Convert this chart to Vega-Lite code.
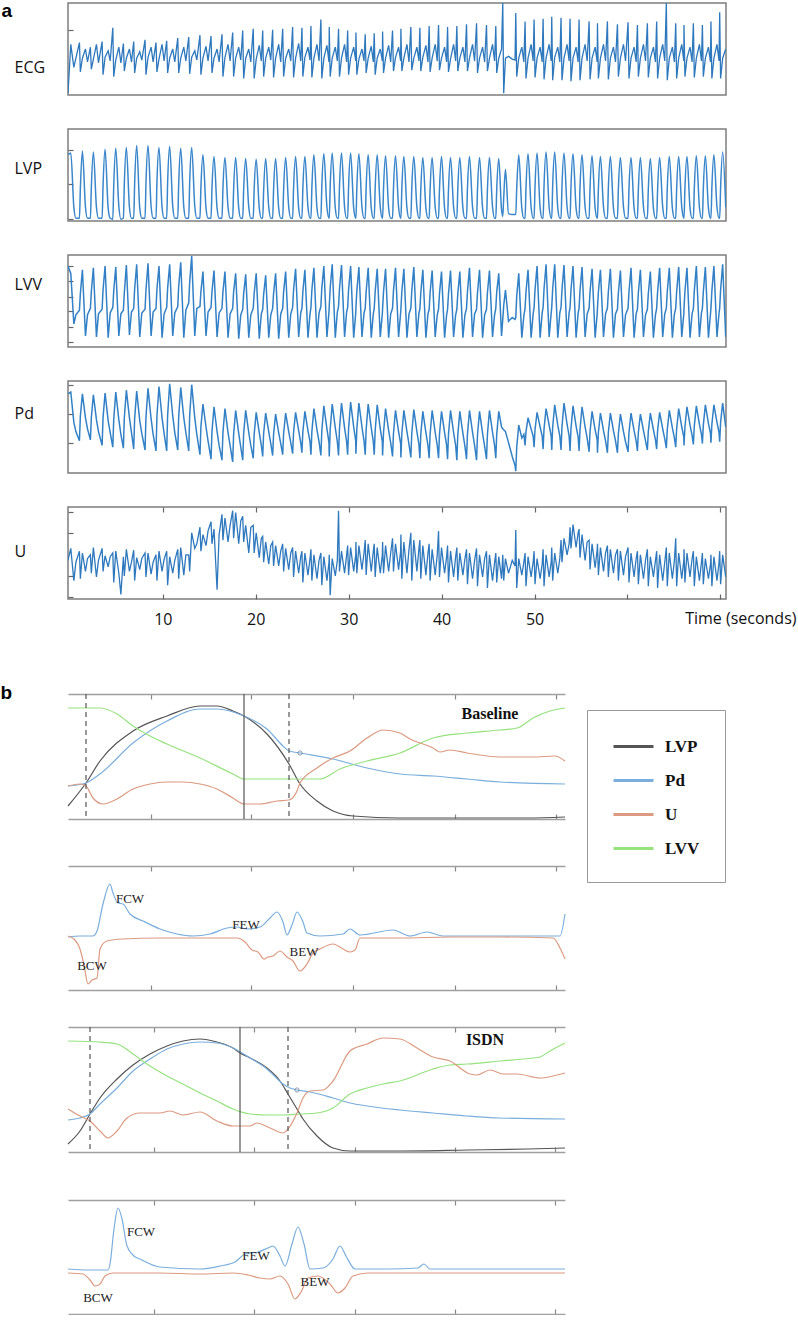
{
"$schema":"https://vega.github.io/schema/vega-lite/v6.json",
"background":"white",
"padding":{"left":0,"top":0,"right":0,"bottom":0},
"config":{"view":{"stroke":null},"font":"Open Sans"},
"resolve":{"scale":{"color":"independent"}},
"spacing":0,
"bounds":"flush",
"datasets":{
"a":[
{"t":-0.2,"e":2,"p":72,"v":88,"d":86,"u":42},{"t":0.1,"e":55,"p":74,"v":80,"d":88,"u":55},{"t":0.43,"e":30,"p":15,"v":25,"d":55,"u":20},{"t":0.65,"e":40,"p":3,"v":35,"d":45,"u":40},
{"t":1.03,"e":57,"p":3,"v":40,"d":35,"u":52},{"t":1.13,"e":25,"p":35,"v":58,"d":62,"u":22},{"t":1.35,"e":40,"p":76,"v":84,"d":86,"u":50},{"t":1.68,"e":50,"p":15,"v":12,"d":60,"u":30},{"t":1.9,"e":36,"p":3,"v":35,"d":48,"u":44},
{"t":2.21,"e":52,"p":3,"v":42,"d":36,"u":48},{"t":2.31,"e":28,"p":36,"v":60,"d":60,"u":28},{"t":2.53,"e":39,"p":75,"v":86,"d":85,"u":56},{"t":2.86,"e":55,"p":15,"v":11,"d":58,"u":24},{"t":3.08,"e":35,"p":3,"v":36,"d":45,"u":42},
{"t":3.47,"e":58,"p":3,"v":41,"d":30,"u":55},{"t":3.57,"e":22,"p":38,"v":62,"d":60,"u":30},{"t":3.79,"e":41,"p":78,"v":88,"d":87,"u":47},{"t":4.12,"e":48,"p":14,"v":10,"d":57,"u":35},{"t":4.34,"e":37,"p":3,"v":37,"d":44,"u":46},
{"t":4.62,"e":73,"p":2,"v":43,"d":28,"u":50},{"t":4.72,"e":20,"p":38,"v":61,"d":58,"u":18},{"t":4.94,"e":38,"p":79,"v":87,"d":88,"u":52},{"t":5.27,"e":52,"p":16,"v":12,"d":58,"u":28},{"t":5.49,"e":35,"p":2,"v":36,"d":42,"u":5},
{"t":5.76,"e":56,"p":3,"v":40,"d":27,"u":46},{"t":5.86,"e":26,"p":40,"v":59,"d":60,"u":25},{"t":6.08,"e":40,"p":80,"v":89,"d":90,"u":54},{"t":6.41,"e":50,"p":15,"v":13,"d":60,"u":30},{"t":6.63,"e":36,"p":3,"v":38,"d":44,"u":40},
{"t":6.87,"e":58,"p":3,"v":42,"d":26,"u":53},{"t":6.97,"e":24,"p":40,"v":63,"d":59,"u":20},{"t":7.19,"e":40,"p":82,"v":90,"d":89,"u":45},{"t":7.52,"e":47,"p":14,"v":11,"d":57,"u":32},{"t":7.74,"e":38,"p":3,"v":37,"d":43,"u":44},
{"t":8.09,"e":60,"p":3,"v":41,"d":25,"u":50},{"t":8.19,"e":22,"p":41,"v":62,"d":61,"u":24},{"t":8.41,"e":41,"p":82,"v":91,"d":92,"u":50},{"t":8.74,"e":52,"p":16,"v":12,"d":59,"u":27},{"t":8.96,"e":36,"p":3,"v":38,"d":42,"u":40},
{"t":9.27,"e":57,"p":3,"v":42,"d":24,"u":48},{"t":9.37,"e":25,"p":42,"v":63,"d":62,"u":20},{"t":9.59,"e":39,"p":80,"v":88,"d":94,"u":52},{"t":9.92,"e":55,"p":15,"v":10,"d":60,"u":30},{"t":10.14,"e":37,"p":3,"v":36,"d":43,"u":43},
{"t":10.42,"e":59,"p":3,"v":43,"d":24,"u":52},{"t":10.52,"e":24,"p":42,"v":64,"d":63,"u":15},{"t":10.74,"e":40,"p":81,"v":90,"d":97,"u":46},{"t":11.07,"e":50,"p":16,"v":12,"d":62,"u":28},{"t":11.29,"e":36,"p":3,"v":37,"d":44,"u":42},
{"t":11.61,"e":62,"p":3,"v":44,"d":25,"u":54},{"t":11.71,"e":24,"p":40,"v":66,"d":61,"u":22},{"t":11.93,"e":40,"p":79,"v":92,"d":93,"u":56},{"t":12.26,"e":52,"p":15,"v":10,"d":60,"u":26},{"t":12.48,"e":37,"p":3,"v":40,"d":44,"u":48},
{"t":12.79,"e":63,"p":3,"v":48,"d":24,"u":48},{"t":12.89,"e":23,"p":41,"v":70,"d":62,"u":30},{"t":13.11,"e":41,"p":80,"v":99,"d":96,"u":72},{"t":13.44,"e":48,"p":16,"v":12,"d":60,"u":55},{"t":13.66,"e":38,"p":3,"v":42,"d":42,"u":60},
{"t":14,"e":65,"p":3,"v":44,"d":20,"u":78},{"t":14.1,"e":22,"p":36,"v":60,"d":50,"u":52},{"t":14.32,"e":40,"p":72,"v":82,"d":75,"u":70},{"t":14.65,"e":53,"p":14,"v":12,"d":50,"u":58},{"t":14.87,"e":37,"p":3,"v":38,"d":35,"u":74},
{"t":15.19,"e":64,"p":3,"v":43,"d":15,"u":84},{"t":15.29,"e":24,"p":35,"v":60,"d":45,"u":60},{"t":15.51,"e":40,"p":70,"v":83,"d":72,"u":76},{"t":15.84,"e":50,"p":14,"v":11,"d":45,"u":10},{"t":16.06,"e":36,"p":3,"v":37,"d":30,"u":70},
{"t":16.37,"e":66,"p":3,"v":42,"d":14,"u":92},{"t":16.47,"e":20,"p":35,"v":60,"d":44,"u":64},{"t":16.69,"e":41,"p":69,"v":82,"d":70,"u":88},{"t":17.02,"e":55,"p":15,"v":10,"d":44,"u":62},{"t":17.24,"e":37,"p":3,"v":36,"d":30,"u":80},
{"t":17.52,"e":68,"p":3,"v":42,"d":12,"u":96},{"t":17.62,"e":20,"p":34,"v":60,"d":42,"u":66},{"t":17.84,"e":40,"p":69,"v":80,"d":68,"u":94},{"t":18.17,"e":52,"p":14,"v":9,"d":43,"u":60},{"t":18.39,"e":38,"p":3,"v":35,"d":28,"u":85},
{"t":18.6,"e":70,"p":3,"v":41,"d":14,"u":90},{"t":18.7,"e":18,"p":34,"v":58,"d":43,"u":62},{"t":18.92,"e":40,"p":68,"v":79,"d":68,"u":80},{"t":19.25,"e":50,"p":15,"v":10,"d":44,"u":50},{"t":19.47,"e":36,"p":3,"v":35,"d":30,"u":78},
{"t":19.73,"e":72,"p":3,"v":42,"d":16,"u":80},{"t":19.83,"e":18,"p":34,"v":58,"d":42,"u":50},{"t":20.05,"e":39,"p":67,"v":80,"d":66,"u":72},{"t":20.38,"e":54,"p":14,"v":9,"d":44,"u":45},{"t":20.6,"e":37,"p":3,"v":36,"d":30,"u":66},
{"t":20.75,"e":70,"p":3,"v":41,"d":18,"u":68},{"t":20.85,"e":20,"p":33,"v":57,"d":43,"u":40},{"t":21.07,"e":40,"p":68,"v":78,"d":65,"u":62},{"t":21.4,"e":52,"p":15,"v":10,"d":45,"u":38},{"t":21.62,"e":38,"p":3,"v":35,"d":32,"u":58},
{"t":21.82,"e":71,"p":3,"v":42,"d":19,"u":62},{"t":21.92,"e":19,"p":34,"v":58,"d":42,"u":36},{"t":22.14,"e":40,"p":68,"v":80,"d":64,"u":58},{"t":22.47,"e":55,"p":14,"v":9,"d":44,"u":36},{"t":22.69,"e":36,"p":3,"v":36,"d":32,"u":52},
{"t":22.9,"e":72,"p":3,"v":42,"d":20,"u":60},{"t":23,"e":20,"p":34,"v":60,"d":43,"u":30},{"t":23.22,"e":40,"p":69,"v":82,"d":65,"u":55},{"t":23.55,"e":50,"p":15,"v":10,"d":45,"u":32},{"t":23.77,"e":37,"p":3,"v":36,"d":33,"u":50},
{"t":23.97,"e":74,"p":3,"v":43,"d":21,"u":56},{"t":24.07,"e":19,"p":35,"v":62,"d":44,"u":24},{"t":24.29,"e":40,"p":70,"v":85,"d":66,"u":52},{"t":24.62,"e":56,"p":14,"v":11,"d":46,"u":28},{"t":24.84,"e":37,"p":3,"v":37,"d":33,"u":46},
{"t":24.97,"e":73,"p":3,"v":42,"d":22,"u":52},{"t":25.07,"e":20,"p":35,"v":60,"d":45,"u":18},{"t":25.29,"e":41,"p":70,"v":84,"d":67,"u":50},{"t":25.62,"e":52,"p":15,"v":10,"d":46,"u":26},{"t":25.84,"e":38,"p":3,"v":36,"d":34,"u":44},
{"t":25.94,"e":75,"p":3,"v":43,"d":20,"u":54},{"t":26.04,"e":19,"p":36,"v":62,"d":45,"u":20},{"t":26.26,"e":40,"p":72,"v":86,"d":70,"u":48},{"t":26.59,"e":55,"p":14,"v":10,"d":47,"u":22},{"t":26.81,"e":37,"p":3,"v":37,"d":34,"u":42},
{"t":27.01,"e":82,"p":3,"v":44,"d":19,"u":50},{"t":27.11,"e":18,"p":37,"v":64,"d":46,"u":15},{"t":27.33,"e":40,"p":73,"v":88,"d":73,"u":46},{"t":27.66,"e":54,"p":15,"v":11,"d":48,"u":20},{"t":27.88,"e":36,"p":3,"v":38,"d":33,"u":40},
{"t":27.91,"e":74,"p":3,"v":44,"d":18,"u":48},{"t":28.01,"e":20,"p":37,"v":64,"d":47,"u":4},{"t":28.23,"e":40,"p":74,"v":90,"d":75,"u":44},{"t":28.56,"e":52,"p":14,"v":10,"d":49,"u":25},{"t":28.78,"e":37,"p":3,"v":38,"d":34,"u":42},
{"t":28.91,"e":72,"p":3,"v":44,"d":19,"u":96},{"t":29.01,"e":20,"p":37,"v":63,"d":48,"u":30},{"t":29.23,"e":40,"p":74,"v":89,"d":76,"u":52},{"t":29.56,"e":55,"p":15,"v":11,"d":49,"u":28},{"t":29.78,"e":36,"p":3,"v":38,"d":34,"u":48},
{"t":29.89,"e":70,"p":3,"v":43,"d":20,"u":58},{"t":29.99,"e":22,"p":37,"v":62,"d":48,"u":26},{"t":30.21,"e":40,"p":74,"v":88,"d":77,"u":56},{"t":30.54,"e":52,"p":14,"v":10,"d":50,"u":30},{"t":30.76,"e":37,"p":3,"v":37,"d":35,"u":48},
{"t":30.78,"e":68,"p":3,"v":43,"d":21,"u":62},{"t":30.88,"e":22,"p":36,"v":61,"d":48,"u":28},{"t":31.1,"e":39,"p":73,"v":87,"d":76,"u":58},{"t":31.43,"e":50,"p":15,"v":11,"d":50,"u":32},{"t":31.65,"e":37,"p":3,"v":37,"d":35,"u":50},
{"t":31.78,"e":66,"p":3,"v":42,"d":20,"u":64},{"t":31.88,"e":24,"p":36,"v":60,"d":47,"u":26},{"t":32.1,"e":40,"p":72,"v":86,"d":75,"u":60},{"t":32.43,"e":53,"p":14,"v":10,"d":49,"u":30},{"t":32.65,"e":36,"p":3,"v":36,"d":34,"u":52},
{"t":32.75,"e":67,"p":3,"v":42,"d":20,"u":60},{"t":32.85,"e":22,"p":35,"v":60,"d":46,"u":24},{"t":33.07,"e":40,"p":72,"v":85,"d":74,"u":56},{"t":33.4,"e":50,"p":15,"v":11,"d":48,"u":28},{"t":33.62,"e":37,"p":3,"v":36,"d":34,"u":48},
{"t":33.65,"e":69,"p":3,"v":42,"d":19,"u":62},{"t":33.75,"e":24,"p":35,"v":60,"d":44,"u":28},{"t":33.97,"e":40,"p":71,"v":85,"d":70,"u":58},{"t":34.3,"e":54,"p":14,"v":10,"d":46,"u":30},{"t":34.52,"e":36,"p":3,"v":36,"d":33,"u":50},
{"t":34.72,"e":70,"p":3,"v":42,"d":18,"u":66},{"t":34.82,"e":26,"p":35,"v":61,"d":43,"u":30},{"t":35.04,"e":41,"p":71,"v":86,"d":68,"u":60},{"t":35.37,"e":52,"p":15,"v":11,"d":45,"u":32},{"t":35.59,"e":37,"p":3,"v":37,"d":32,"u":52},
{"t":35.62,"e":72,"p":3,"v":41,"d":17,"u":70},{"t":35.72,"e":26,"p":35,"v":60,"d":43,"u":22},{"t":35.94,"e":40,"p":70,"v":85,"d":68,"u":62},{"t":36.27,"e":55,"p":14,"v":10,"d":45,"u":28},{"t":36.49,"e":36,"p":3,"v":36,"d":31,"u":54},
{"t":36.69,"e":74,"p":3,"v":42,"d":17,"u":72},{"t":36.79,"e":27,"p":35,"v":61,"d":43,"u":20},{"t":37.01,"e":40,"p":70,"v":87,"d":69,"u":64},{"t":37.34,"e":52,"p":15,"v":11,"d":45,"u":30},{"t":37.56,"e":37,"p":3,"v":37,"d":31,"u":55},
{"t":37.66,"e":73,"p":3,"v":41,"d":16,"u":64},{"t":37.76,"e":26,"p":34,"v":59,"d":42,"u":22},{"t":37.98,"e":41,"p":69,"v":84,"d":67,"u":58},{"t":38.31,"e":54,"p":14,"v":10,"d":44,"u":26},{"t":38.53,"e":36,"p":3,"v":36,"d":30,"u":50},
{"t":38.66,"e":75,"p":3,"v":41,"d":16,"u":60},{"t":38.76,"e":25,"p":34,"v":59,"d":42,"u":20},{"t":38.98,"e":40,"p":69,"v":83,"d":68,"u":54},{"t":39.31,"e":55,"p":15,"v":11,"d":44,"u":26},{"t":39.53,"e":37,"p":3,"v":35,"d":30,"u":48},
{"t":39.67,"e":76,"p":3,"v":41,"d":16,"u":74},{"t":39.77,"e":27,"p":34,"v":58,"d":42,"u":24},{"t":39.99,"e":40,"p":70,"v":82,"d":67,"u":56},{"t":40.32,"e":52,"p":14,"v":10,"d":44,"u":28},{"t":40.54,"e":36,"p":3,"v":35,"d":30,"u":46},
{"t":40.64,"e":74,"p":3,"v":41,"d":15,"u":58},{"t":40.74,"e":25,"p":34,"v":58,"d":42,"u":18},{"t":40.96,"e":39,"p":69,"v":83,"d":68,"u":52},{"t":41.29,"e":55,"p":15,"v":11,"d":44,"u":24},{"t":41.51,"e":37,"p":3,"v":35,"d":30,"u":46},
{"t":41.64,"e":75,"p":3,"v":41,"d":14,"u":56},{"t":41.74,"e":26,"p":34,"v":58,"d":41,"u":20},{"t":41.96,"e":40,"p":69,"v":82,"d":67,"u":50},{"t":42.29,"e":52,"p":14,"v":10,"d":43,"u":26},{"t":42.51,"e":36,"p":3,"v":35,"d":29,"u":44},
{"t":42.68,"e":77,"p":3,"v":42,"d":15,"u":54},{"t":42.78,"e":26,"p":35,"v":60,"d":42,"u":16},{"t":43,"e":40,"p":70,"v":86,"d":68,"u":50},{"t":43.33,"e":55,"p":15,"v":11,"d":44,"u":22},{"t":43.55,"e":37,"p":3,"v":36,"d":30,"u":42},
{"t":43.76,"e":78,"p":3,"v":41,"d":14,"u":55},{"t":43.86,"e":24,"p":34,"v":59,"d":41,"u":14},{"t":44.08,"e":40,"p":69,"v":84,"d":67,"u":48},{"t":44.41,"e":52,"p":14,"v":10,"d":43,"u":24},{"t":44.63,"e":36,"p":3,"v":35,"d":29,"u":44},
{"t":44.83,"e":76,"p":3,"v":41,"d":15,"u":52},{"t":44.93,"e":26,"p":34,"v":59,"d":42,"u":12},{"t":45.15,"e":40,"p":69,"v":83,"d":68,"u":48},{"t":45.48,"e":55,"p":15,"v":11,"d":44,"u":20},{"t":45.7,"e":37,"p":3,"v":35,"d":30,"u":40},
{"t":45.83,"e":75,"p":3,"v":42,"d":16,"u":50},{"t":45.93,"e":24,"p":34,"v":60,"d":42,"u":18},{"t":46.15,"e":40,"p":68,"v":80,"d":67,"u":46},{"t":46.45,"e":50,"p":12,"v":12,"d":50,"u":22},
{"t":46.58,"e":100,"p":5,"v":30,"d":48,"u":48},{"t":46.68,"e":2,"p":25,"v":45,"d":47,"u":20},{"t":46.87,"e":40,"p":56,"v":62,"d":45,"u":44},{"t":47.2,"e":42,"p":8,"v":28,"d":33,"u":28},{"t":47.6,"e":39,"p":7,"v":32,"d":18,"u":42},{"t":47.9,"e":38,"p":7,"v":30,"d":8,"u":36},
{"t":47.98,"e":89,"p":7,"v":32,"d":2,"u":75},{"t":48.08,"e":20,"p":35,"v":55,"d":28,"u":12},{"t":48.3,"e":40,"p":72,"v":80,"d":52,"u":44},{"t":48.63,"e":52,"p":14,"v":10,"d":38,"u":26},{"t":48.85,"e":36,"p":3,"v":34,"d":42,"u":40},
{"t":48.98,"e":80,"p":3,"v":42,"d":30,"u":50},{"t":49.08,"e":18,"p":36,"v":60,"d":45,"u":14},{"t":49.3,"e":40,"p":73,"v":84,"d":60,"u":46},{"t":49.63,"e":55,"p":15,"v":10,"d":48,"u":24},{"t":49.85,"e":37,"p":3,"v":36,"d":40,"u":40},
{"t":49.95,"e":82,"p":3,"v":43,"d":28,"u":52},{"t":50.05,"e":19,"p":37,"v":62,"d":47,"u":16},{"t":50.27,"e":40,"p":74,"v":88,"d":66,"u":44},{"t":50.6,"e":52,"p":14,"v":10,"d":50,"u":22},{"t":50.82,"e":36,"p":3,"v":37,"d":40,"u":38},
{"t":50.92,"e":83,"p":3,"v":43,"d":26,"u":54},{"t":51.02,"e":17,"p":38,"v":63,"d":48,"u":14},{"t":51.24,"e":40,"p":75,"v":90,"d":70,"u":48},{"t":51.57,"e":55,"p":15,"v":11,"d":52,"u":24},{"t":51.79,"e":37,"p":3,"v":37,"d":40,"u":40},
{"t":51.85,"e":85,"p":3,"v":43,"d":25,"u":56},{"t":51.95,"e":16,"p":38,"v":63,"d":50,"u":20},{"t":52.17,"e":41,"p":75,"v":90,"d":74,"u":50},{"t":52.5,"e":52,"p":14,"v":10,"d":52,"u":28},{"t":52.72,"e":36,"p":3,"v":37,"d":40,"u":44},
{"t":52.85,"e":84,"p":3,"v":43,"d":25,"u":64},{"t":52.95,"e":16,"p":37,"v":62,"d":50,"u":40},{"t":53.17,"e":40,"p":74,"v":89,"d":76,"u":66},{"t":53.5,"e":55,"p":15,"v":11,"d":53,"u":48},{"t":53.72,"e":37,"p":3,"v":37,"d":40,"u":60},
{"t":53.82,"e":83,"p":3,"v":43,"d":24,"u":78},{"t":53.92,"e":15,"p":37,"v":62,"d":48,"u":55},{"t":54.14,"e":40,"p":73,"v":88,"d":73,"u":81},{"t":54.47,"e":52,"p":14,"v":10,"d":51,"u":56},{"t":54.69,"e":36,"p":3,"v":37,"d":39,"u":72},
{"t":54.79,"e":82,"p":3,"v":42,"d":24,"u":76},{"t":54.89,"e":16,"p":36,"v":61,"d":47,"u":45},{"t":55.11,"e":40,"p":72,"v":87,"d":72,"u":70},{"t":55.44,"e":55,"p":15,"v":11,"d":50,"u":42},{"t":55.66,"e":37,"p":3,"v":36,"d":38,"u":62},
{"t":55.87,"e":80,"p":3,"v":42,"d":23,"u":64},{"t":55.97,"e":17,"p":36,"v":60,"d":45,"u":32},{"t":56.19,"e":40,"p":71,"v":85,"d":67,"u":60},{"t":56.52,"e":52,"p":14,"v":10,"d":47,"u":34},{"t":56.74,"e":36,"p":3,"v":36,"d":36,"u":54},
{"t":56.77,"e":78,"p":3,"v":42,"d":22,"u":60},{"t":56.87,"e":18,"p":35,"v":60,"d":44,"u":26},{"t":57.09,"e":40,"p":70,"v":84,"d":65,"u":56},{"t":57.42,"e":55,"p":15,"v":11,"d":46,"u":30},{"t":57.64,"e":37,"p":3,"v":36,"d":35,"u":50},
{"t":57.84,"e":80,"p":3,"v":42,"d":22,"u":58},{"t":57.94,"e":17,"p":35,"v":60,"d":44,"u":24},{"t":58.16,"e":40,"p":70,"v":85,"d":65,"u":54},{"t":58.49,"e":52,"p":14,"v":10,"d":46,"u":28},{"t":58.71,"e":36,"p":3,"v":36,"d":35,"u":48},
{"t":58.92,"e":77,"p":3,"v":41,"d":22,"u":54},{"t":59.02,"e":20,"p":35,"v":59,"d":43,"u":20},{"t":59.24,"e":40,"p":69,"v":83,"d":64,"u":52},{"t":59.57,"e":55,"p":15,"v":11,"d":45,"u":26},{"t":59.79,"e":37,"p":3,"v":35,"d":34,"u":46},
{"t":60.06,"e":79,"p":3,"v":42,"d":23,"u":56},{"t":60.16,"e":18,"p":35,"v":60,"d":44,"u":18},{"t":60.38,"e":40,"p":69,"v":86,"d":65,"u":50},{"t":60.71,"e":52,"p":14,"v":10,"d":46,"u":24},{"t":60.93,"e":36,"p":3,"v":36,"d":35,"u":44},
{"t":61.07,"e":76,"p":3,"v":41,"d":24,"u":52},{"t":61.17,"e":20,"p":34,"v":59,"d":44,"u":16},{"t":61.39,"e":40,"p":69,"v":84,"d":64,"u":48},{"t":61.72,"e":55,"p":15,"v":11,"d":46,"u":22},{"t":61.94,"e":37,"p":3,"v":35,"d":35,"u":42},
{"t":62.14,"e":78,"p":3,"v":41,"d":25,"u":54},{"t":62.24,"e":19,"p":34,"v":58,"d":45,"u":14},{"t":62.46,"e":40,"p":68,"v":82,"d":65,"u":46},{"t":62.79,"e":52,"p":14,"v":10,"d":47,"u":24},{"t":63.01,"e":36,"p":3,"v":35,"d":36,"u":42},
{"t":63.14,"e":80,"p":3,"v":42,"d":26,"u":52},{"t":63.24,"e":18,"p":34,"v":60,"d":46,"u":12},{"t":63.46,"e":40,"p":69,"v":86,"d":66,"u":48},{"t":63.79,"e":55,"p":15,"v":11,"d":48,"u":20},{"t":64.01,"e":37,"p":3,"v":36,"d":37,"u":40},
{"t":64.18,"e":100,"p":3,"v":42,"d":27,"u":56},{"t":64.28,"e":16,"p":35,"v":60,"d":47,"u":14},{"t":64.5,"e":40,"p":70,"v":86,"d":68,"u":50},{"t":64.83,"e":52,"p":14,"v":10,"d":49,"u":22},{"t":65.05,"e":36,"p":3,"v":36,"d":38,"u":42},
{"t":65.19,"e":78,"p":3,"v":42,"d":28,"u":66},{"t":65.29,"e":18,"p":35,"v":60,"d":48,"u":14},{"t":65.51,"e":40,"p":70,"v":87,"d":70,"u":50},{"t":65.84,"e":55,"p":15,"v":11,"d":50,"u":22},{"t":66.06,"e":37,"p":3,"v":36,"d":39,"u":42},
{"t":66.08,"e":76,"p":3,"v":42,"d":30,"u":54},{"t":66.18,"e":20,"p":35,"v":60,"d":50,"u":18},{"t":66.4,"e":40,"p":70,"v":86,"d":72,"u":50},{"t":66.73,"e":52,"p":14,"v":10,"d":52,"u":24},{"t":66.95,"e":36,"p":3,"v":36,"d":41,"u":44},
{"t":67.09,"e":78,"p":3,"v":42,"d":31,"u":52},{"t":67.19,"e":19,"p":35,"v":61,"d":51,"u":14},{"t":67.41,"e":40,"p":71,"v":88,"d":73,"u":46},{"t":67.74,"e":55,"p":15,"v":11,"d":53,"u":20},{"t":67.96,"e":37,"p":3,"v":37,"d":42,"u":40},
{"t":68.06,"e":76,"p":3,"v":42,"d":32,"u":50},{"t":68.16,"e":20,"p":35,"v":60,"d":52,"u":16},{"t":68.38,"e":40,"p":71,"v":87,"d":74,"u":44},{"t":68.71,"e":52,"p":14,"v":10,"d":54,"u":22},{"t":68.93,"e":36,"p":3,"v":36,"d":43,"u":38},
{"t":68.98,"e":80,"p":3,"v":42,"d":33,"u":48},{"t":69.08,"e":18,"p":36,"v":61,"d":53,"u":14},{"t":69.3,"e":40,"p":72,"v":88,"d":74,"u":46},{"t":69.63,"e":55,"p":15,"v":11,"d":55,"u":20},{"t":69.85,"e":37,"p":3,"v":37,"d":44,"u":40},
{"t":69.92,"e":90,"p":3,"v":42,"d":34,"u":52},{"t":70.02,"e":18,"p":36,"v":62,"d":55,"u":16},{"t":70.24,"e":40,"p":75,"v":90,"d":76,"u":48},{"t":70.57,"e":50,"p":15,"v":11,"d":50,"u":24}
],
"b":[
{"p":1,"s":"LVP","x":0,"y":13},{"p":1,"s":"LVP","x":18,"y":36},{"p":1,"s":"LVP","x":32,"y":58},{"p":1,"s":"LVP","x":65,"y":88},{"p":1,"s":"LVP","x":99,"y":103},{"p":1,"s":"LVP","x":132,"y":113},{"p":1,"s":"LVP","x":149,"y":113},{"p":1,"s":"LVP","x":165,"y":108},{"p":1,"s":"LVP","x":176,"y":103},{"p":1,"s":"LVP","x":199,"y":85},{"p":1,"s":"LVP","x":221,"y":55},{"p":1,"s":"LVP","x":232,"y":35},{"p":1,"s":"LVP","x":249,"y":18},{"p":1,"s":"LVP","x":265,"y":8},{"p":1,"s":"LVP","x":285,"y":3},{"p":1,"s":"LVP","x":332,"y":1},{"p":1,"s":"LVP","x":400,"y":1},{"p":1,"s":"LVP","x":460,"y":1},{"p":1,"s":"LVP","x":497,"y":2},
{"p":1,"s":"Pd","x":0,"y":33},{"p":1,"s":"Pd","x":18,"y":36},{"p":1,"s":"Pd","x":32,"y":45},{"p":1,"s":"Pd","x":65,"y":76},{"p":1,"s":"Pd","x":99,"y":98},{"p":1,"s":"Pd","x":132,"y":110},{"p":1,"s":"Pd","x":149,"y":110},{"p":1,"s":"Pd","x":176,"y":103},{"p":1,"s":"Pd","x":199,"y":90},{"p":1,"s":"Pd","x":215,"y":73},{"p":1,"s":"Pd","x":221,"y":68},{"p":1,"s":"Pd","x":232,"y":66},{"p":1,"s":"Pd","x":265,"y":60},{"p":1,"s":"Pd","x":299,"y":51},{"p":1,"s":"Pd","x":332,"y":45},{"p":1,"s":"Pd","x":365,"y":43},{"p":1,"s":"Pd","x":399,"y":40},{"p":1,"s":"Pd","x":432,"y":37},{"p":1,"s":"Pd","x":497,"y":35},
{"p":1,"s":"LVV","x":0,"y":111},{"p":1,"s":"LVV","x":32,"y":111},{"p":1,"s":"LVV","x":49,"y":105},{"p":1,"s":"LVV","x":65,"y":93},{"p":1,"s":"LVV","x":82,"y":83},{"p":1,"s":"LVV","x":99,"y":75},{"p":1,"s":"LVV","x":132,"y":61},{"p":1,"s":"LVV","x":165,"y":45},{"p":1,"s":"LVV","x":176,"y":40},{"p":1,"s":"LVV","x":199,"y":40},{"p":1,"s":"LVV","x":232,"y":40},{"p":1,"s":"LVV","x":252,"y":40},{"p":1,"s":"LVV","x":272,"y":50},{"p":1,"s":"LVV","x":299,"y":58},{"p":1,"s":"LVV","x":332,"y":66},{"p":1,"s":"LVV","x":365,"y":81},{"p":1,"s":"LVV","x":399,"y":86},{"p":1,"s":"LVV","x":432,"y":89},{"p":1,"s":"LVV","x":449,"y":91},{"p":1,"s":"LVV","x":465,"y":101},{"p":1,"s":"LVV","x":482,"y":108},{"p":1,"s":"LVV","x":497,"y":111},
{"p":1,"s":"U","x":0,"y":33},{"p":1,"s":"U","x":12,"y":35},{"p":1,"s":"U","x":18,"y":33},{"p":1,"s":"U","x":25,"y":21},{"p":1,"s":"U","x":35,"y":15},{"p":1,"s":"U","x":49,"y":20},{"p":1,"s":"U","x":65,"y":30},{"p":1,"s":"U","x":82,"y":35},{"p":1,"s":"U","x":99,"y":37},{"p":1,"s":"U","x":115,"y":37},{"p":1,"s":"U","x":132,"y":35},{"p":1,"s":"U","x":149,"y":30},{"p":1,"s":"U","x":165,"y":21},{"p":1,"s":"U","x":176,"y":15},{"p":1,"s":"U","x":192,"y":15},{"p":1,"s":"U","x":209,"y":18},{"p":1,"s":"U","x":221,"y":19},{"p":1,"s":"U","x":229,"y":28},{"p":1,"s":"U","x":232,"y":36},{"p":1,"s":"U","x":249,"y":51},{"p":1,"s":"U","x":265,"y":61},{"p":1,"s":"U","x":282,"y":68},{"p":1,"s":"U","x":299,"y":81},{"p":1,"s":"U","x":315,"y":89},{"p":1,"s":"U","x":332,"y":86},{"p":1,"s":"U","x":342,"y":80},{"p":1,"s":"U","x":365,"y":71},{"p":1,"s":"U","x":372,"y":67},{"p":1,"s":"U","x":382,"y":69},{"p":1,"s":"U","x":399,"y":66},{"p":1,"s":"U","x":432,"y":62},{"p":1,"s":"U","x":465,"y":62},{"p":1,"s":"U","x":487,"y":63},{"p":1,"s":"U","x":497,"y":58},
{"p":2,"s":"Pd","x":0,"y":53},{"p":2,"s":"Pd","x":12,"y":54},{"p":2,"s":"Pd","x":25,"y":54},{"p":2,"s":"Pd","x":29,"y":59},{"p":2,"s":"Pd","x":35,"y":86},{"p":2,"s":"Pd","x":42,"y":106},{"p":2,"s":"Pd","x":45,"y":97},{"p":2,"s":"Pd","x":50,"y":87},{"p":2,"s":"Pd","x":55,"y":86},{"p":2,"s":"Pd","x":62,"y":76},{"p":2,"s":"Pd","x":75,"y":69},{"p":2,"s":"Pd","x":92,"y":61},{"p":2,"s":"Pd","x":109,"y":56},{"p":2,"s":"Pd","x":125,"y":54},{"p":2,"s":"Pd","x":142,"y":56},{"p":2,"s":"Pd","x":159,"y":62},{"p":2,"s":"Pd","x":169,"y":63},{"p":2,"s":"Pd","x":179,"y":61},{"p":2,"s":"Pd","x":192,"y":63},{"p":2,"s":"Pd","x":202,"y":72},{"p":2,"s":"Pd","x":209,"y":78},{"p":2,"s":"Pd","x":215,"y":68},{"p":2,"s":"Pd","x":219,"y":55},{"p":2,"s":"Pd","x":224,"y":65},{"p":2,"s":"Pd","x":229,"y":78},{"p":2,"s":"Pd","x":235,"y":68},{"p":2,"s":"Pd","x":239,"y":57},{"p":2,"s":"Pd","x":252,"y":54},{"p":2,"s":"Pd","x":275,"y":56},{"p":2,"s":"Pd","x":282,"y":61},{"p":2,"s":"Pd","x":292,"y":55},{"p":2,"s":"Pd","x":325,"y":60},{"p":2,"s":"Pd","x":342,"y":54},{"p":2,"s":"Pd","x":359,"y":58},{"p":2,"s":"Pd","x":375,"y":54},{"p":2,"s":"Pd","x":400,"y":54},{"p":2,"s":"Pd","x":440,"y":54},{"p":2,"s":"Pd","x":480,"y":54},{"p":2,"s":"Pd","x":492,"y":54},{"p":2,"s":"Pd","x":497,"y":76},
{"p":2,"s":"U","x":0,"y":54},{"p":2,"s":"U","x":7,"y":50},{"p":2,"s":"U","x":12,"y":41},{"p":2,"s":"U","x":16,"y":25},{"p":2,"s":"U","x":20,"y":6},{"p":2,"s":"U","x":24,"y":10},{"p":2,"s":"U","x":29,"y":12},{"p":2,"s":"U","x":32,"y":41},{"p":2,"s":"U","x":39,"y":49},{"p":2,"s":"U","x":55,"y":51},{"p":2,"s":"U","x":92,"y":52},{"p":2,"s":"U","x":132,"y":52},{"p":2,"s":"U","x":169,"y":52},{"p":2,"s":"U","x":177,"y":48},{"p":2,"s":"U","x":184,"y":40},{"p":2,"s":"U","x":190,"y":38},{"p":2,"s":"U","x":196,"y":31},{"p":2,"s":"U","x":200,"y":33},{"p":2,"s":"U","x":205,"y":34},{"p":2,"s":"U","x":212,"y":39},{"p":2,"s":"U","x":219,"y":33},{"p":2,"s":"U","x":225,"y":29},{"p":2,"s":"U","x":232,"y":19},{"p":2,"s":"U","x":239,"y":26},{"p":2,"s":"U","x":245,"y":37},{"p":2,"s":"U","x":252,"y":41},{"p":2,"s":"U","x":265,"y":46},{"p":2,"s":"U","x":275,"y":41},{"p":2,"s":"U","x":282,"y":38},{"p":2,"s":"U","x":287,"y":40},{"p":2,"s":"U","x":292,"y":52},{"p":2,"s":"U","x":332,"y":52},{"p":2,"s":"U","x":382,"y":53},{"p":2,"s":"U","x":432,"y":53},{"p":2,"s":"U","x":485,"y":52},{"p":2,"s":"U","x":492,"y":42},{"p":2,"s":"U","x":497,"y":31},
{"p":3,"s":"LVP","x":0,"y":8},{"p":3,"s":"LVP","x":12,"y":21},{"p":3,"s":"LVP","x":22,"y":38},{"p":3,"s":"LVP","x":32,"y":54},{"p":3,"s":"LVP","x":49,"y":73},{"p":3,"s":"LVP","x":65,"y":87},{"p":3,"s":"LVP","x":82,"y":98},{"p":3,"s":"LVP","x":99,"y":106},{"p":3,"s":"LVP","x":115,"y":111},{"p":3,"s":"LVP","x":132,"y":113},{"p":3,"s":"LVP","x":149,"y":110},{"p":3,"s":"LVP","x":165,"y":104},{"p":3,"s":"LVP","x":172,"y":99},{"p":3,"s":"LVP","x":182,"y":94},{"p":3,"s":"LVP","x":199,"y":84},{"p":3,"s":"LVP","x":212,"y":71},{"p":3,"s":"LVP","x":220,"y":58},{"p":3,"s":"LVP","x":229,"y":43},{"p":3,"s":"LVP","x":235,"y":33},{"p":3,"s":"LVP","x":249,"y":16},{"p":3,"s":"LVP","x":265,"y":4},{"p":3,"s":"LVP","x":282,"y":1},{"p":3,"s":"LVP","x":332,"y":1},{"p":3,"s":"LVP","x":400,"y":2},{"p":3,"s":"LVP","x":460,"y":3},{"p":3,"s":"LVP","x":497,"y":4},
{"p":3,"s":"Pd","x":0,"y":32},{"p":3,"s":"Pd","x":12,"y":34},{"p":3,"s":"Pd","x":22,"y":38},{"p":3,"s":"Pd","x":32,"y":48},{"p":3,"s":"Pd","x":49,"y":64},{"p":3,"s":"Pd","x":65,"y":81},{"p":3,"s":"Pd","x":82,"y":93},{"p":3,"s":"Pd","x":99,"y":103},{"p":3,"s":"Pd","x":115,"y":108},{"p":3,"s":"Pd","x":132,"y":110},{"p":3,"s":"Pd","x":149,"y":109},{"p":3,"s":"Pd","x":165,"y":104},{"p":3,"s":"Pd","x":182,"y":94},{"p":3,"s":"Pd","x":199,"y":83},{"p":3,"s":"Pd","x":215,"y":68},{"p":3,"s":"Pd","x":222,"y":64},{"p":3,"s":"Pd","x":229,"y":62},{"p":3,"s":"Pd","x":242,"y":60},{"p":3,"s":"Pd","x":265,"y":54},{"p":3,"s":"Pd","x":282,"y":49},{"p":3,"s":"Pd","x":299,"y":46},{"p":3,"s":"Pd","x":332,"y":42},{"p":3,"s":"Pd","x":365,"y":39},{"p":3,"s":"Pd","x":399,"y":36},{"p":3,"s":"Pd","x":432,"y":34},{"p":3,"s":"Pd","x":497,"y":33},
{"p":3,"s":"LVV","x":0,"y":111},{"p":3,"s":"LVV","x":32,"y":110},{"p":3,"s":"LVV","x":49,"y":108},{"p":3,"s":"LVV","x":65,"y":98},{"p":3,"s":"LVV","x":82,"y":86},{"p":3,"s":"LVV","x":99,"y":76},{"p":3,"s":"LVV","x":115,"y":68},{"p":3,"s":"LVV","x":132,"y":59},{"p":3,"s":"LVV","x":149,"y":51},{"p":3,"s":"LVV","x":165,"y":43},{"p":3,"s":"LVV","x":182,"y":38},{"p":3,"s":"LVV","x":199,"y":37},{"p":3,"s":"LVV","x":215,"y":37},{"p":3,"s":"LVV","x":232,"y":38},{"p":3,"s":"LVV","x":249,"y":39},{"p":3,"s":"LVV","x":265,"y":44},{"p":3,"s":"LVV","x":282,"y":58},{"p":3,"s":"LVV","x":299,"y":64},{"p":3,"s":"LVV","x":315,"y":68},{"p":3,"s":"LVV","x":332,"y":71},{"p":3,"s":"LVV","x":365,"y":83},{"p":3,"s":"LVV","x":382,"y":87},{"p":3,"s":"LVV","x":399,"y":88},{"p":3,"s":"LVV","x":432,"y":91},{"p":3,"s":"LVV","x":465,"y":94},{"p":3,"s":"LVV","x":472,"y":95},{"p":3,"s":"LVV","x":482,"y":101},{"p":3,"s":"LVV","x":497,"y":109},
{"p":3,"s":"U","x":0,"y":43},{"p":3,"s":"U","x":12,"y":36},{"p":3,"s":"U","x":22,"y":31},{"p":3,"s":"U","x":32,"y":21},{"p":3,"s":"U","x":40,"y":14},{"p":3,"s":"U","x":49,"y":21},{"p":3,"s":"U","x":59,"y":34},{"p":3,"s":"U","x":72,"y":39},{"p":3,"s":"U","x":92,"y":39},{"p":3,"s":"U","x":102,"y":41},{"p":3,"s":"U","x":115,"y":37},{"p":3,"s":"U","x":132,"y":40},{"p":3,"s":"U","x":149,"y":31},{"p":3,"s":"U","x":165,"y":26},{"p":3,"s":"U","x":182,"y":26},{"p":3,"s":"U","x":189,"y":29},{"p":3,"s":"U","x":202,"y":24},{"p":3,"s":"U","x":215,"y":19},{"p":3,"s":"U","x":220,"y":23},{"p":3,"s":"U","x":229,"y":39},{"p":3,"s":"U","x":235,"y":54},{"p":3,"s":"U","x":242,"y":61},{"p":3,"s":"U","x":255,"y":62},{"p":3,"s":"U","x":265,"y":71},{"p":3,"s":"U","x":282,"y":101},{"p":3,"s":"U","x":299,"y":108},{"p":3,"s":"U","x":315,"y":114},{"p":3,"s":"U","x":332,"y":113},{"p":3,"s":"U","x":349,"y":104},{"p":3,"s":"U","x":365,"y":95},{"p":3,"s":"U","x":382,"y":91},{"p":3,"s":"U","x":402,"y":78},{"p":3,"s":"U","x":409,"y":77},{"p":3,"s":"U","x":422,"y":82},{"p":3,"s":"U","x":435,"y":78},{"p":3,"s":"U","x":449,"y":78},{"p":3,"s":"U","x":472,"y":74},{"p":3,"s":"U","x":485,"y":76},{"p":3,"s":"U","x":497,"y":79},
{"p":4,"s":"Pd","x":0,"y":45},{"p":4,"s":"Pd","x":20,"y":44},{"p":4,"s":"Pd","x":40,"y":44},{"p":4,"s":"Pd","x":42,"y":50},{"p":4,"s":"Pd","x":46,"y":85},{"p":4,"s":"Pd","x":50,"y":106},{"p":4,"s":"Pd","x":54,"y":95},{"p":4,"s":"Pd","x":59,"y":68},{"p":4,"s":"Pd","x":66,"y":58},{"p":4,"s":"Pd","x":72,"y":55},{"p":4,"s":"Pd","x":92,"y":47},{"p":4,"s":"Pd","x":132,"y":45},{"p":4,"s":"Pd","x":152,"y":48},{"p":4,"s":"Pd","x":167,"y":52},{"p":4,"s":"Pd","x":177,"y":60},{"p":4,"s":"Pd","x":190,"y":62},{"p":4,"s":"Pd","x":200,"y":66},{"p":4,"s":"Pd","x":205,"y":68},{"p":4,"s":"Pd","x":212,"y":58},{"p":4,"s":"Pd","x":217,"y":48},{"p":4,"s":"Pd","x":224,"y":70},{"p":4,"s":"Pd","x":230,"y":87},{"p":4,"s":"Pd","x":236,"y":70},{"p":4,"s":"Pd","x":242,"y":45},{"p":4,"s":"Pd","x":255,"y":46},{"p":4,"s":"Pd","x":265,"y":55},{"p":4,"s":"Pd","x":272,"y":68},{"p":4,"s":"Pd","x":278,"y":58},{"p":4,"s":"Pd","x":287,"y":45},{"p":4,"s":"Pd","x":320,"y":45},{"p":4,"s":"Pd","x":350,"y":46},{"p":4,"s":"Pd","x":356,"y":50},{"p":4,"s":"Pd","x":362,"y":45},{"p":4,"s":"Pd","x":400,"y":45},{"p":4,"s":"Pd","x":450,"y":45},{"p":4,"s":"Pd","x":497,"y":45},
{"p":4,"s":"U","x":0,"y":41},{"p":4,"s":"U","x":15,"y":40},{"p":4,"s":"U","x":22,"y":34},{"p":4,"s":"U","x":27,"y":28},{"p":4,"s":"U","x":32,"y":30},{"p":4,"s":"U","x":37,"y":38},{"p":4,"s":"U","x":45,"y":41},{"p":4,"s":"U","x":92,"y":41},{"p":4,"s":"U","x":132,"y":40},{"p":4,"s":"U","x":165,"y":41},{"p":4,"s":"U","x":180,"y":39},{"p":4,"s":"U","x":192,"y":36},{"p":4,"s":"U","x":202,"y":35},{"p":4,"s":"U","x":212,"y":38},{"p":4,"s":"U","x":220,"y":30},{"p":4,"s":"U","x":227,"y":15},{"p":4,"s":"U","x":233,"y":22},{"p":4,"s":"U","x":240,"y":36},{"p":4,"s":"U","x":250,"y":38},{"p":4,"s":"U","x":262,"y":30},{"p":4,"s":"U","x":270,"y":21},{"p":4,"s":"U","x":277,"y":26},{"p":4,"s":"U","x":285,"y":38},{"p":4,"s":"U","x":300,"y":41},{"p":4,"s":"U","x":350,"y":41},{"p":4,"s":"U","x":400,"y":41},{"p":4,"s":"U","x":450,"y":41},{"p":4,"s":"U","x":497,"y":41}
],
"bv":[{"p":1,"x":18,"k":"dash"},{"p":1,"x":176,"k":"solid"},{"p":1,"x":221,"k":"dash"},{"p":3,"x":22,"k":"dash"},{"p":3,"x":172,"k":"solid"},{"p":3,"x":220,"k":"dash"}],
"bd":[{"p":1,"x":232,"y":66},{"p":3,"x":229,"y":62}],
"bt":[{"p":1,"x":422,"y":105,"label":"Baseline"},{"p":3,"x":417,"y":112,"label":"ISDN"},{"p":2,"x":62,"y":91,"label":"FCW"},{"p":2,"x":178,"y":65,"label":"FEW"},{"p":2,"x":24,"y":24,"label":"BCW"},{"p":2,"x":236,"y":38,"label":"BEW"},{"p":4,"x":73,"y":82,"label":"FCW"},{"p":4,"x":188,"y":58,"label":"FEW"},{"p":4,"x":30,"y":16,"label":"BCW"},{"p":4,"x":247,"y":32,"label":"BEW"}]
},
"vconcat":[
{"width":658,"height":92,"data":{"name":"a"},"view":{"stroke":"#7d7d7d","strokeWidth":1.5},
 "layer":[
  {"mark":{"type":"line","color":"#2e78bd","strokeWidth":1.3,"clip":true},
   "encoding":{"x":{"field":"t","type":"quantitative","scale":{"domain":[-0.2,70.6],"nice":false,"zero":false},"axis":null},
    "y":{"field":"e","type":"quantitative","scale":{"domain":[0,100],"nice":false,"zero":false},
     "axis":{"orient":"left","title":"ECG","titleAngle":0,"titleAlign":"left","titleBaseline":"middle","titleX":-54,"titleY":64,"titleFontSize":16,"titleFontWeight":"normal","titleColor":"#111","domain":false,"labels":false,"tickSize":-5,"tickColor":"#666","tickWidth":1.2,"values":[71],"grid":false}}}},
  {"mark":{"type":"line","opacity":0},
   "encoding":{"x":{"field":"t","type":"quantitative","scale":{"domain":[-0.2,70.6],"nice":false,"zero":false},"axis":null},
    "y":{"field":"e","type":"quantitative","scale":{"domain":[0,100],"nice":false,"zero":false},
     "axis":{"orient":"left","title":"a","titleAngle":0,"titleAlign":"left","titleBaseline":"alphabetic","titleX":-67,"titleY":13,"titleFont":"Liberation Sans","titleFontSize":19,"titleFontWeight":"bold","titleColor":"#000","domain":false,"labels":false,"ticks":false,"grid":false}}}}
 ],
 "resolve":{"axis":{"y":"independent"}}},
{"width":10,"height":34,"data":{"values":[{"z":0}]},"mark":{"type":"text","text":""}},
{"width":658,"height":92,"data":{"name":"a"},"view":{"stroke":"#7d7d7d","strokeWidth":1.5},
 "mark":{"type":"line","color":"#3a86cb","strokeWidth":1.5,"clip":true,"interpolate":"monotone"},
 "encoding":{"x":{"field":"t","type":"quantitative","scale":{"domain":[-0.2,70.6],"nice":false,"zero":false},"axis":null},
  "y":{"field":"p","type":"quantitative","scale":{"domain":[0,100],"nice":false,"zero":false},
   "axis":{"title":"LVP","titleAngle":0,"titleAlign":"left","titleBaseline":"middle","titleX":-54,"titleY":39,"titleFontSize":16,"titleFontWeight":"normal","titleColor":"#111","domain":false,"labels":false,"tickSize":-5,"tickColor":"#666","tickWidth":1.2,"values":[2,40,77],"grid":false}}}},
{"width":10,"height":34,"data":{"values":[{"z":0}]},"mark":{"type":"text","text":""}},
{"width":658,"height":92,"data":{"name":"a"},"view":{"stroke":"#7d7d7d","strokeWidth":1.5},
 "mark":{"type":"line","color":"#3280c6","strokeWidth":1.5,"clip":true},
 "encoding":{"x":{"field":"t","type":"quantitative","scale":{"domain":[-0.2,70.6],"nice":false,"zero":false},"axis":null},
  "y":{"field":"v","type":"quantitative","scale":{"domain":[0,100],"nice":false,"zero":false},
   "axis":{"title":"LVV","titleAngle":0,"titleAlign":"left","titleBaseline":"middle","titleX":-54,"titleY":29,"titleFontSize":16,"titleFontWeight":"normal","titleColor":"#111","domain":false,"labels":false,"tickSize":-5,"tickColor":"#666","tickWidth":1.2,"values":[5,22,39,54,72,88],"grid":false}}}},
{"width":10,"height":34,"data":{"values":[{"z":0}]},"mark":{"type":"text","text":""}},
{"width":658,"height":92,"data":{"name":"a"},"view":{"stroke":"#7d7d7d","strokeWidth":1.5},
 "mark":{"type":"line","color":"#3280c6","strokeWidth":1.5,"clip":true},
 "encoding":{"x":{"field":"t","type":"quantitative","scale":{"domain":[-0.2,70.6],"nice":false,"zero":false},"axis":null},
  "y":{"field":"d","type":"quantitative","scale":{"domain":[0,100],"nice":false,"zero":false},
   "axis":{"title":"Pd","titleAngle":0,"titleAlign":"left","titleBaseline":"middle","titleX":-54,"titleY":32,"titleFontSize":16,"titleFontWeight":"normal","titleColor":"#111","domain":false,"labels":false,"tickSize":-5,"tickColor":"#666","tickWidth":1.2,"values":[33,64,96],"grid":false}}}},
{"width":10,"height":34,"data":{"values":[{"z":0}]},"mark":{"type":"text","text":""}},
{"width":658,"height":92,"data":{"name":"a"},"view":{"stroke":"#7d7d7d","strokeWidth":1.5},
 "layer":[
  {"mark":{"type":"line","color":"#2e78bd","strokeWidth":1.3,"clip":true},
   "encoding":{"x":{"field":"t","type":"quantitative","scale":{"domain":[-0.2,70.6],"nice":false,"zero":false},
     "axis":{"orient":"bottom","values":[10,20,30,40,50,60,70],"labelExpr":"datum.value <= 50 ? datum.label : ''","labelFontSize":16,"labelColor":"#111","labelPadding":17,"tickSize":-5,"tickColor":"#666","tickWidth":1.2,"domain":false,"grid":false,"title":"Time (seconds)","titleFontSize":16,"titleFontWeight":"normal","titleColor":"#111","titleX":728,"titleY":19,"titleAlign":"right","titleBaseline":"middle"}},
    "y":{"field":"u","type":"quantitative","scale":{"domain":[0,100],"nice":false,"zero":false},
     "axis":{"orient":"left","title":"U","titleAngle":0,"titleAlign":"left","titleBaseline":"middle","titleX":-54,"titleY":44,"titleFontSize":16,"titleFontWeight":"normal","titleColor":"#111","domain":false,"labels":false,"tickSize":-5,"tickColor":"#666","tickWidth":1.2,"values":[2,25,72,95],"grid":false}}}},
  {"mark":{"type":"line","opacity":0},
   "encoding":{"x":{"field":"t","type":"quantitative","scale":{"domain":[-0.2,70.6],"nice":false,"zero":false},
     "axis":{"orient":"top","values":[10,20,30,40,50,60,70],"labels":false,"tickSize":-5,"tickColor":"#666","tickWidth":1.2,"domain":false,"grid":false,"title":null}},
    "y":{"field":"u","type":"quantitative","scale":{"domain":[0,100],"nice":false,"zero":false},"axis":null}}}
 ],
 "resolve":{"axis":{"x":"independent","y":"independent"}}},
{"width":10,"height":95,"data":{"values":[{"z":0}]},"mark":{"type":"text","text":""}},
{"width":497,"height":125,
 "layer":[
  {"data":{"name":"b"},"transform":[{"filter":"datum.p===1"}],
   "mark":{"type":"line","strokeWidth":1.2,"interpolate":"monotone"},
   "encoding":{"x":{"field":"x","type":"quantitative","scale":{"domain":[0,497],"nice":false,"zero":false},
     "axis":{"orient":"bottom","values":[83,183,285,387,488],"labels":false,"title":null,"tickSize":-5,"tickColor":"#888","tickWidth":1.2,"domainColor":"#a0a0a0","domainWidth":1.5,"grid":false}},
    "y":{"field":"y","type":"quantitative","scale":{"domain":[0,125],"nice":false,"zero":false},"axis":null},
    "color":{"field":"s","type":"nominal","scale":{"domain":["LVP","Pd","U","LVV"],"range":["#555555","#7aaedc","#dc9a80","#96e27e"]},
     "legend":{"orient":"none","legendX":519,"legendY":16,"title":null,"direction":"vertical","strokeColor":"#999","fillColor":"#ffffff","padding":25,"rowPadding":14,"symbolType":"M-2,0H2","symbolSize":400,"symbolStrokeWidth":3,"symbolOffset":10,"labelFont":"Liberation Serif","labelFontWeight":"bold","labelFontSize":17,"labelColor":"#111","labelOffset":20}}}},
  {"data":{"name":"bv"},"transform":[{"filter":"datum.p===1 && datum.k==='dash'"}],
   "mark":{"type":"rule","color":"#555","strokeDash":[5,4],"strokeWidth":1.2},
   "encoding":{"x":{"field":"x","type":"quantitative","scale":{"domain":[0,497],"nice":false,"zero":false},"axis":null}}},
  {"data":{"name":"bv"},"transform":[{"filter":"datum.p===1 && datum.k==='solid'"}],
   "mark":{"type":"rule","color":"#555","strokeWidth":1.2},
   "encoding":{"x":{"field":"x","type":"quantitative","scale":{"domain":[0,497],"nice":false,"zero":false},"axis":null}}},
  {"data":{"name":"bd"},"transform":[{"filter":"datum.p===1"}],
   "mark":{"type":"point","filled":false,"size":18,"color":"#66788f","strokeWidth":1},
   "encoding":{"x":{"field":"x","type":"quantitative","scale":{"domain":[0,497],"nice":false,"zero":false},"axis":null},
    "y":{"field":"y","type":"quantitative","scale":{"domain":[0,125],"nice":false,"zero":false},"axis":null}}},
  {"data":{"name":"bt"},"transform":[{"filter":"datum.p===1"}],
   "mark":{"type":"text","font":"Liberation Serif","fontWeight":"bold","fontSize":16,"color":"#111"},
   "encoding":{"x":{"field":"x","type":"quantitative","scale":{"domain":[0,497],"nice":false,"zero":false},"axis":null},
    "y":{"field":"y","type":"quantitative","scale":{"domain":[0,125],"nice":false,"zero":false},"axis":null},"text":{"field":"label"}}},
  {"data":{"name":"b"},"transform":[{"filter":"datum.p===1"}],
   "mark":{"type":"line","opacity":0},
   "encoding":{"x":{"field":"x","type":"quantitative","scale":{"domain":[0,497],"nice":false,"zero":false},
     "axis":{"orient":"top","values":[83,183,285,387,488],"labels":false,"title":null,"tickSize":-5,"tickColor":"#888","tickWidth":1.2,"domainColor":"#a0a0a0","domainWidth":1.5,"grid":false}},
    "y":{"field":"y","type":"quantitative","scale":{"domain":[0,125],"nice":false,"zero":false},
     "axis":{"orient":"left","title":"b","titleAngle":0,"titleAlign":"left","titleBaseline":"alphabetic","titleX":-68,"titleY":4,"titleFont":"Liberation Sans","titleFontSize":19,"titleFontWeight":"bold","titleColor":"#000","domain":false,"labels":false,"ticks":false,"grid":false}},
    "detail":{"field":"s"}}}
 ],
 "resolve":{"axis":{"x":"independent","y":"independent"}}},
{"width":10,"height":47,"data":{"values":[{"z":0}]},"mark":{"type":"text","text":""}},
{"width":497,"height":124,
 "layer":[
  {"data":{"name":"b"},"transform":[{"filter":"datum.p===2"}],
   "mark":{"type":"line","strokeWidth":1.2,"interpolate":"monotone"},
   "encoding":{"x":{"field":"x","type":"quantitative","scale":{"domain":[0,497],"nice":false,"zero":false},
     "axis":{"orient":"bottom","values":[83,183,285,387,488],"labels":false,"title":null,"tickSize":-5,"tickColor":"#888","tickWidth":1.2,"domainColor":"#a0a0a0","domainWidth":1.5,"grid":false}},
    "y":{"field":"y","type":"quantitative","scale":{"domain":[0,124],"nice":false,"zero":false},"axis":null},
    "color":{"field":"s","type":"nominal","scale":{"domain":["LVP","Pd","U","LVV"],"range":["#555555","#7aaedc","#dc9a80","#96e27e"]},"legend":null}}},
  {"data":{"name":"bt"},"transform":[{"filter":"datum.p===2"}],
   "mark":{"type":"text","font":"Liberation Serif","fontSize":13,"color":"#222"},
   "encoding":{"x":{"field":"x","type":"quantitative","scale":{"domain":[0,497],"nice":false,"zero":false},"axis":null},
    "y":{"field":"y","type":"quantitative","scale":{"domain":[0,124],"nice":false,"zero":false},"axis":null},"text":{"field":"label"}}},
  {"data":{"name":"b"},"transform":[{"filter":"datum.p===2"}],
   "mark":{"type":"line","opacity":0},
   "encoding":{"x":{"field":"x","type":"quantitative","scale":{"domain":[0,497],"nice":false,"zero":false},
     "axis":{"orient":"top","values":[83,183,285,387,488],"labels":false,"title":null,"tickSize":-5,"tickColor":"#888","tickWidth":1.2,"domainColor":"#a0a0a0","domainWidth":1.5,"grid":false}},
    "y":{"field":"y","type":"quantitative","scale":{"domain":[0,124],"nice":false,"zero":false},"axis":null},"detail":{"field":"s"}}}
 ],
 "resolve":{"axis":{"x":"independent","y":"independent"}}},
{"width":10,"height":37,"data":{"values":[{"z":0}]},"mark":{"type":"text","text":""}},
{"width":497,"height":125,
 "layer":[
  {"data":{"name":"b"},"transform":[{"filter":"datum.p===3"}],
   "mark":{"type":"line","strokeWidth":1.2,"interpolate":"monotone"},
   "encoding":{"x":{"field":"x","type":"quantitative","scale":{"domain":[0,497],"nice":false,"zero":false},
     "axis":{"orient":"bottom","values":[86,186,287,387,487],"labels":false,"title":null,"tickSize":-5,"tickColor":"#888","tickWidth":1.2,"domainColor":"#a0a0a0","domainWidth":1.5,"grid":false}},
    "y":{"field":"y","type":"quantitative","scale":{"domain":[0,125],"nice":false,"zero":false},"axis":null},
    "color":{"field":"s","type":"nominal","scale":{"domain":["LVP","Pd","U","LVV"],"range":["#555555","#7aaedc","#dc9a80","#96e27e"]},"legend":null}}},
  {"data":{"name":"bv"},"transform":[{"filter":"datum.p===3 && datum.k==='dash'"}],
   "mark":{"type":"rule","color":"#555","strokeDash":[5,4],"strokeWidth":1.2},
   "encoding":{"x":{"field":"x","type":"quantitative","scale":{"domain":[0,497],"nice":false,"zero":false},"axis":null}}},
  {"data":{"name":"bv"},"transform":[{"filter":"datum.p===3 && datum.k==='solid'"}],
   "mark":{"type":"rule","color":"#555","strokeWidth":1.2},
   "encoding":{"x":{"field":"x","type":"quantitative","scale":{"domain":[0,497],"nice":false,"zero":false},"axis":null}}},
  {"data":{"name":"bd"},"transform":[{"filter":"datum.p===3"}],
   "mark":{"type":"point","filled":false,"size":18,"color":"#66788f","strokeWidth":1},
   "encoding":{"x":{"field":"x","type":"quantitative","scale":{"domain":[0,497],"nice":false,"zero":false},"axis":null},
    "y":{"field":"y","type":"quantitative","scale":{"domain":[0,125],"nice":false,"zero":false},"axis":null}}},
  {"data":{"name":"bt"},"transform":[{"filter":"datum.p===3"}],
   "mark":{"type":"text","font":"Liberation Serif","fontWeight":"bold","fontSize":16,"color":"#111"},
   "encoding":{"x":{"field":"x","type":"quantitative","scale":{"domain":[0,497],"nice":false,"zero":false},"axis":null},
    "y":{"field":"y","type":"quantitative","scale":{"domain":[0,125],"nice":false,"zero":false},"axis":null},"text":{"field":"label"}}},
  {"data":{"name":"b"},"transform":[{"filter":"datum.p===3"}],
   "mark":{"type":"line","opacity":0},
   "encoding":{"x":{"field":"x","type":"quantitative","scale":{"domain":[0,497],"nice":false,"zero":false},
     "axis":{"orient":"top","values":[86,186,287,387,487],"labels":false,"title":null,"tickSize":-5,"tickColor":"#888","tickWidth":1.2,"domainColor":"#a0a0a0","domainWidth":1.5,"grid":false}},
    "y":{"field":"y","type":"quantitative","scale":{"domain":[0,125],"nice":false,"zero":false},"axis":null},"detail":{"field":"s"}}}
 ],
 "resolve":{"axis":{"x":"independent","y":"independent"}}},
{"width":10,"height":48,"data":{"values":[{"z":0}]},"mark":{"type":"text","text":""}},
{"width":497,"height":114,
 "layer":[
  {"data":{"name":"b"},"transform":[{"filter":"datum.p===4"}],
   "mark":{"type":"line","strokeWidth":1.2,"interpolate":"monotone"},
   "encoding":{"x":{"field":"x","type":"quantitative","scale":{"domain":[0,497],"nice":false,"zero":false},
     "axis":{"orient":"bottom","values":[86,186,287,387,487],"labels":false,"title":null,"tickSize":-5,"tickColor":"#888","tickWidth":1.2,"domainColor":"#a0a0a0","domainWidth":1.5,"grid":false}},
    "y":{"field":"y","type":"quantitative","scale":{"domain":[0,114],"nice":false,"zero":false},"axis":null},
    "color":{"field":"s","type":"nominal","scale":{"domain":["LVP","Pd","U","LVV"],"range":["#555555","#7aaedc","#dc9a80","#96e27e"]},"legend":null}}},
  {"data":{"name":"bt"},"transform":[{"filter":"datum.p===4"}],
   "mark":{"type":"text","font":"Liberation Serif","fontSize":13,"color":"#222"},
   "encoding":{"x":{"field":"x","type":"quantitative","scale":{"domain":[0,497],"nice":false,"zero":false},"axis":null},
    "y":{"field":"y","type":"quantitative","scale":{"domain":[0,114],"nice":false,"zero":false},"axis":null},"text":{"field":"label"}}},
  {"data":{"name":"b"},"transform":[{"filter":"datum.p===4"}],
   "mark":{"type":"line","opacity":0},
   "encoding":{"x":{"field":"x","type":"quantitative","scale":{"domain":[0,497],"nice":false,"zero":false},
     "axis":{"orient":"top","values":[86,186,287,387,487],"labels":false,"title":null,"tickSize":-5,"tickColor":"#888","tickWidth":1.2,"domainColor":"#a0a0a0","domainWidth":1.5,"grid":false}},
    "y":{"field":"y","type":"quantitative","scale":{"domain":[0,114],"nice":false,"zero":false},"axis":null},"detail":{"field":"s"}}}
 ],
 "resolve":{"axis":{"x":"independent","y":"independent"}}}
]
}
